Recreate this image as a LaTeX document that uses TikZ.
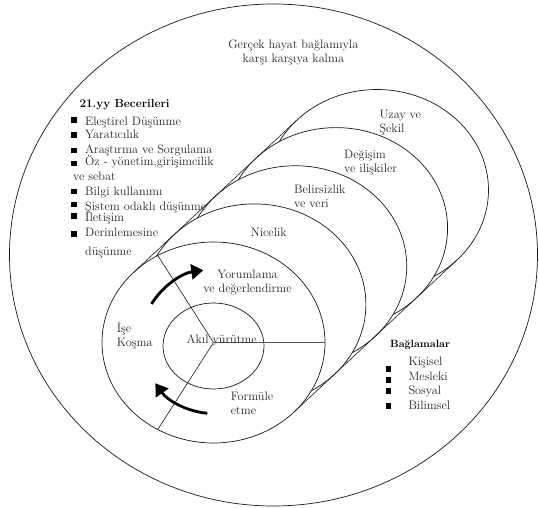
\documentclass[tikz,border=0pt]{standalone}
\usepackage{xcolor}
\usepackage{tikz}
\usetikzlibrary{arrows.meta, calc}
\definecolor{mydark}{RGB}{25,25,25}
\definecolor{mytext}{RGB}{38,38,38}
\tikzset{
  ring/.style={draw=mydark, fill=white, line width=0.7pt},
  spoke/.style={draw=mydark, line width=0.6pt},
  lbl/.style={inner sep=0pt, text=mytext, font=\fontsize{12.2}{14}\selectfont},
  headlbl/.style={inner sep=0pt, text=black, font=\fontsize{11.7}{14}\selectfont\bfseries},
  sqbul/.style={rectangle, fill=black, inner sep=0pt, minimum size=5.5pt},
  turnarrow/.style={-{Triangle[length=12pt, width=15pt]}, line width=2.8pt, color=black}
}

\begin{document}
\begin{tikzpicture}[x=1pt, y=-1pt]
  \useasboundingbox (0,0) rectangle (539,508);

  % Outer ellipse: real life context
  \draw[ring] (273.5,255) ellipse [x radius=264, y radius=251];

  % Content rings, back to front
  \coordinate (c4) at (377,190);
  \coordinate (c3) at (336.1,228.1);
  \coordinate (c2) at (295.25,266.25);
  \coordinate (c1) at (254.4,304.4);
  \coordinate (c0) at (213.5,342.5);
  \draw[ring] (c4) ellipse [x radius=111.5, y radius=100.5]; % Uzay ve Sekil
  \draw[ring] (c3) ellipse [x radius=111.5, y radius=100.5]; % Degisim
  \draw[ring] (c2) ellipse [x radius=111.5, y radius=100.5]; % Belirsizlik
  \draw[ring] (c1) ellipse [x radius=111.5, y radius=100.5]; % Nicelik
  \draw[ring] (c0) ellipse [x radius=111.5, y radius=100.5]; % process ring

  % Tangent lines of the stack
  \coordinate (t0) at ($(c0)+(224:111.5 and 100.5)$);
  \coordinate (t4) at ($(c4)+(224:111.5 and 100.5)$);
  \coordinate (u0) at ($(c0)+(44:111.5 and 100.5)$);
  \coordinate (u4) at ($(c4)+(44:111.5 and 100.5)$);
  \draw[spoke] (t0) -- (t4);
  \draw[spoke] (u0) -- (u4);

  % Reasoning core
  \draw[ring] (213.5,346) ellipse [x radius=50.5, y radius=43];

  % Spokes
  \coordinate (s1) at ($(c0)+(0:111.5 and 100.5)$);
  \coordinate (s2) at ($(c0)+(120:111.5 and 100.5)$);
  \coordinate (s3) at ($(c0)+(240:111.5 and 100.5)$);
  \draw[spoke, draw=black!65, line width=1pt] (c0) -- (s1);
  \draw[spoke] (c0) -- (s2);
  \draw[spoke] (c0) -- (s3);

  % Cycle arrows
  \coordinate (a1) at ($(c0)+(212:73)$);
  \coordinate (a2) at ($(c0)+(95:71)$);
  \draw[turnarrow] (a1) arc [start angle=212, end angle=262, radius=73];
  \draw[turnarrow] (a2) arc [start angle=95, end angle=145, radius=71];

  % Labels inside the rings (base = last line)
  \node[lbl, align=center, anchor=base] (real) at (293.3,63) {Gerçek hayat bağlamıyla\\karşı karşıya kalma};
  \node[lbl, align=left, anchor=base west] (space) at (379.3,132.5) {Uzay ve\\Şekil};
  \node[lbl, align=left, anchor=base west] (change) at (344,172.5) {Değişim\\ve ilişkiler};
  \node[lbl, align=left, anchor=base west] (uncert) at (294,208) {Belirsizlik\\ve veri};
  \node[lbl, anchor=base west] (quant) at (250.7,237) {Nicelik};
  \node[lbl, align=center, anchor=base] (interp) at (247.5,292.5) {Yorumlama\\ve değerlendirme};
  \node[lbl, align=left, anchor=base west] (employ) at (116.7,346.5) {İşe\\Koşma};
  \node[lbl, anchor=base] (reason) at (221.7,344) {Akıl yürütme};
  \node[lbl, align=left, anchor=base west] (formul) at (230.7,414) {Formüle\\etme};

  % 21st century skills
  \node[headlbl, anchor=base west] (skillhd) at (79.3,107.5) {21.yy Becerileri};
  \node[lbl, anchor=base west] (sk1) at (85,125.5) {Eleştirel Düşünme};
  \node[lbl, anchor=base west] (sk2) at (85,138.5) {Yaratıcılık};
  \node[lbl, anchor=base west] (sk3) at (85,153.5) {Araştırma ve Sorgulama};
  \node[lbl, anchor=base west] (sk4) at (85,166) {Öz - yönetim,girişimcilik};
  \node[lbl, anchor=base west] (sk4b) at (73,180.5) {ve sebat};
  \node[lbl, anchor=base west] (sk5) at (85,195.5) {Bilgi kullanımı};
  \node[lbl, anchor=base west] (sk6) at (85,210.5) {Şistem odaklı düşünme};
  \node[lbl, anchor=base west] (sk7) at (85,221.5) {İletişim};
  \node[lbl, align=left, anchor=base west] (sk8) at (85,255.5) {Derinlemesine\\[4.5pt]düşünme};
  \node[sqbul] (b1) at (74.2,120) {};
  \node[sqbul] (b2) at (74.2,135) {};
  \node[sqbul] (b3) at (74.2,150.7) {};
  \node[sqbul] (b4) at (74.2,163.3) {};
  \node[sqbul] (b5) at (74.2,191.7) {};
  \node[sqbul] (b6) at (74.2,204.3) {};
  \node[sqbul] (b7) at (74.2,216) {};
  \node[sqbul] (b8) at (74.2,234) {};

  % Contexts
  \node[headlbl, font=\fontsize{10.5}{14}\selectfont\bfseries, anchor=base west] (ctxhd) at (390,347) {Bağlamalar};
  \node[lbl, anchor=base west] (cx1) at (408.3,365.5) {Kişisel};
  \node[lbl, anchor=base west] (cx2) at (408.3,380.5) {Mesleki};
  \node[lbl, anchor=base west] (cx3) at (408.3,394.5) {Sosyal};
  \node[lbl, anchor=base west] (cx4) at (408.3,409.5) {Bilimsel};
  \node[sqbul] (d1) at (388.7,369) {};
  \node[sqbul] (d2) at (388.7,380) {};
  \node[sqbul] (d3) at (388.7,391) {};
  \node[sqbul] (d4) at (388.7,406) {};
\end{tikzpicture}
\end{document}
